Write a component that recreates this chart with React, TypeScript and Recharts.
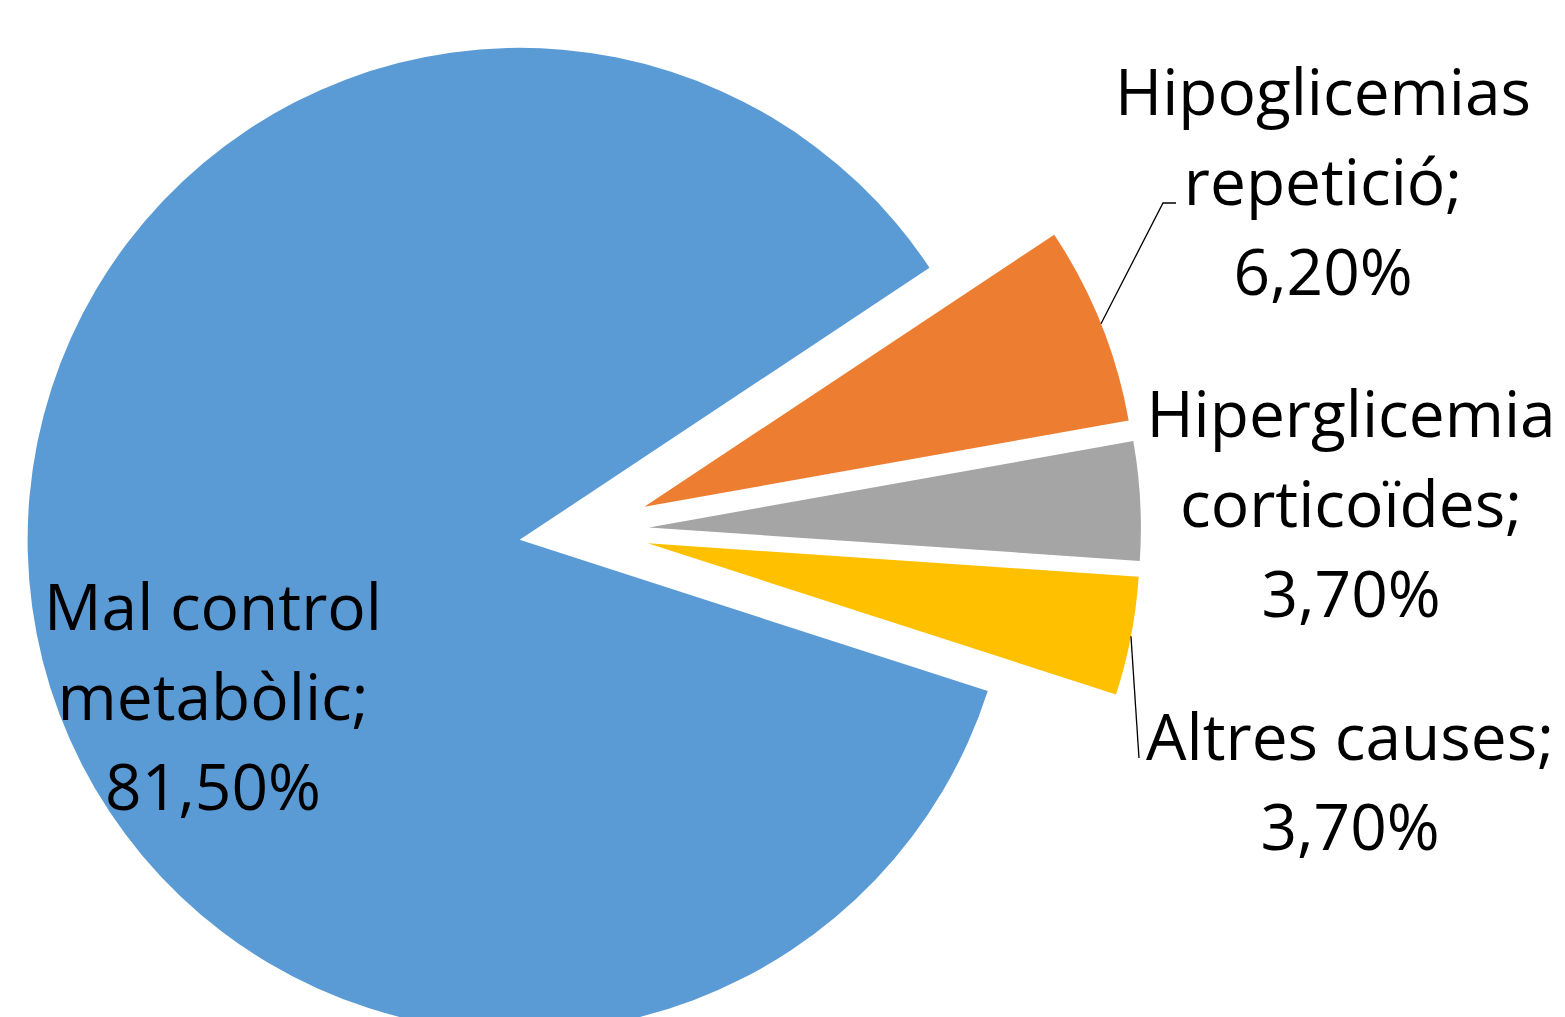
import { Cell, Pie, PieChart } from "recharts";

const causes = [
  "Mal control metabòlic",
  "Hipoglicemias repetició",
  "Hiperglicemia corticoïdes",
  "Altres causes",
];
const percents = [81.5, 6.2, 3.7, 3.7];
// how each label is broken into lines (words per line, last line is the value)
const labelBreaks = [
  [2, 1],
  [1, 1],
  [1, 1],
  [2],
];

const colors = ["#5B9BD5", "#ED7D31", "#A5A5A5", "#FFC000"];
const labelAnchors = [
  { x: 213, y: 630 },
  { x: 1323, y: 115 },
  { x: 1351, y: 437 },
  { x: 1350, y: 760 },
];
const leaderEnds: (number[][] | null)[] = [
  null,
  [
    [1163, 203],
    [1176, 203],
  ],
  null,
  [[1139, 758]],
];

const START = -17.9;
const EXPLODE = 65;
const RAD = Math.PI / 180;

const data = causes.map((name, i) => ({ name, value: percents[i] }));

const total = percents.reduce((a, b) => a + b, 0);
const midAngles: number[] = [];
{
  let acc = START;
  percents.forEach((v) => {
    const span = (-360 * v) / total;
    midAngles.push(acc + span / 2);
    acc += span;
  });
}

const fmt = (v: number) => v.toFixed(2).replace(".", ",") + "%";

function splitLines(name: string, value: number, i: number) {
  const words = name.split(" ");
  const lines: string[] = [];
  let w = 0;
  labelBreaks[i].forEach((n, k) => {
    const chunk = words.slice(w, w + n).join(" ");
    w += n;
    lines.push(k === labelBreaks[i].length - 1 ? chunk + ";" : chunk);
  });
  lines.push(fmt(value));
  return lines;
}

const renderLabel = (props: any) => {
  const { cx, cy, midAngle, outerRadius, index, name, value } = props;
  const a = labelAnchors[index];
  const lines = splitLines(name, value, index);
  const ends = leaderEnds[index];
  let leader = null;
  if (ends) {
    const ex = cx + EXPLODE * Math.cos(-midAngle * RAD);
    const ey = cy + EXPLODE * Math.sin(-midAngle * RAD);
    const sx = ex + outerRadius * Math.cos(-midAngle * RAD);
    const sy = ey + outerRadius * Math.sin(-midAngle * RAD);
    const pts = [[sx, sy], ...ends].map((p) => p.join(",")).join(" ");
    leader = <polyline points={pts} fill="none" stroke="#000" strokeWidth={1.3} />;
  }
  return (
    <g key={`lbl-${index}`}>
      {leader}
      <text
        x={a.x}
        y={a.y}
        textAnchor="middle"
        fill="#000"
        fontFamily="'Open Sans', sans-serif"
        fontSize={64}
      >
        {lines.map((t, k) => (
          <tspan key={k} x={a.x} y={a.y + k * 90}>
            {t}
          </tspan>
        ))}
      </text>
    </g>
  );
};

export default function App() {
  return (
    <div
      style={{
        position: "absolute",
        left: 0,
        top: 0,
        width: 1565,
        height: 1017,
        overflow: "hidden",
        background: "#fff",
      }}
    >
      <PieChart width={1565} height={1017} margin={{ top: 0, right: 0, bottom: 0, left: 0 }}>
        <Pie
          data={data}
          dataKey="value"
          nameKey="name"
          cx={584}
          cy={531}
          outerRadius={492}
          startAngle={START}
          endAngle={START - 360}
          stroke="none"
          label={renderLabel}
          labelLine={false}
          isAnimationActive={false}
        >
          {data.map((d, i) => (
            <Cell
              key={d.name}
              fill={colors[i]}
              transform={`translate(${EXPLODE * Math.cos(midAngles[i] * RAD)}, ${-EXPLODE * Math.sin(midAngles[i] * RAD)})`}
            />
          ))}
        </Pie>
      </PieChart>
    </div>
  );
}
